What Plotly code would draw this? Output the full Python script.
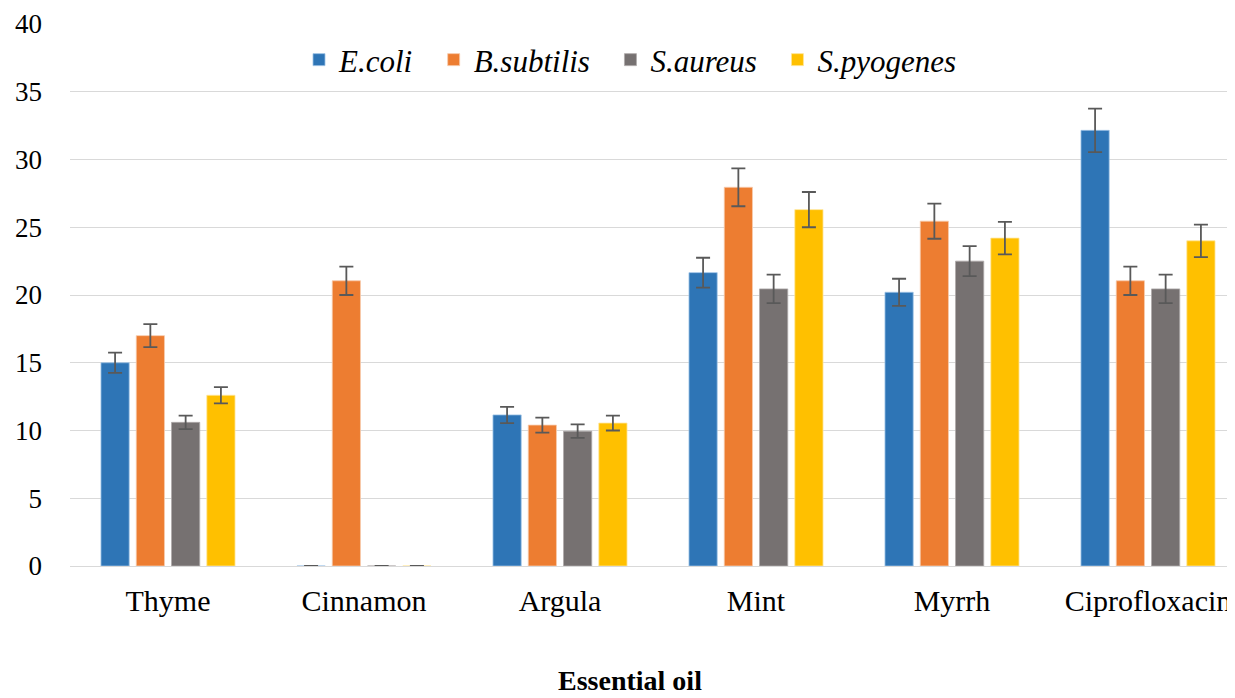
import plotly.graph_objects as go

categories = ["Thyme", "Cinnamon", "Argula", "Mint", "Myrrh", "Ciprofloxacin"]
series_names = ["E.coli", "B.subtilis", "S.aureus", "S.pyogenes"]

ecoli = [15.0, 0, 11.15, 21.65, 20.2, 32.15]
bsubtilis = [17.0, 21.05, 10.4, 27.95, 25.45, 21.05]
saureus = [10.6, 0, 9.95, 20.45, 22.5, 20.45]
spyogenes = [12.6, 0, 10.55, 26.3, 24.2, 24.0]

ecoli_err = [0.75, 0, 0.6, 1.1, 1.0, 1.6]
bsubtilis_err = [0.85, 1.05, 0.55, 1.4, 1.3, 1.05]
saureus_err = [0.5, 0, 0.5, 1.05, 1.1, 1.05]
spyogenes_err = [0.6, 0, 0.55, 1.3, 1.2, 1.2]

y_ticks = [0, 5, 10, 15, 20, 25, 30, 35, 40]

colors = ["#2E75B6", "#ED7D31", "#767171", "#FFC000"]
edge = ["#9DC3E6", "#F8CBAD", "#AEAAAA", "#FFE699"]

values = [ecoli, bsubtilis, saureus, spyogenes]
errors = [ecoli_err, bsubtilis_err, saureus_err, spyogenes_err]

SERIF = "Liberation Serif"

fig = go.Figure()
for name, v, e, c, ec in zip(series_names, values, errors, colors, edge):
    fig.add_trace(go.Bar(
        x=categories, y=v, name="<i>" + name + "</i>\u00a0\u00a0",
        marker=dict(color=c, line=dict(color=ec, width=0.8)),
        error_y=dict(type="data", array=e, visible=True, color="#595959",
                     thickness=1.8, width=7),
    ))

# page body has an 8px margin, so the figure is offset by 8px
OFF = 8
W, H = 1235 - OFF, 698 - OFF
left, top = 70 - OFF, 24 - OFF
plot_bottom = 566 - OFF
bottom = H - plot_bottom
plot_w = W - left
plot_h = plot_bottom - top
span = plot_w / 196.0

fig.update_layout(
    width=W, height=H,
    margin=dict(l=left, r=0, t=top, b=bottom, autoexpand=False),
    paper_bgcolor="white", plot_bgcolor="white",
    barmode="group", bargap=0.28, bargroupgap=0.2,
    font=dict(family=SERIF, size=27, color="black"),
    legend=dict(
        orientation="h", xref="container", yref="container",
        x=(638 - OFF) / W, xanchor="center", y=1 - (60 - OFF) / H, yanchor="middle",
        font=dict(family=SERIF, size=31, color="black"),
        bgcolor="rgba(0,0,0,0)", itemwidth=30,
    ),
    xaxis=dict(
        range=[-0.5, -0.5 + span], showgrid=False, showline=False, ticks="",
        ticklabelstandoff=14,
        tickfont=dict(family=SERIF, size=30), automargin=False,
    ),
    yaxis=dict(
        range=[0, 40], tickvals=y_ticks, showgrid=True, gridcolor="#D9D9D9",
        gridwidth=1.3, zeroline=True, zerolinecolor="#D9D9D9", zerolinewidth=1.3,
        showline=False, ticks="", ticklabelstandoff=27,
        tickfont=dict(family=SERIF, size=27), automargin=False,
    ),
    annotations=[dict(
        text="<b>Essential oil</b>", xref="paper", yref="paper",
        x=(630 - 70) / plot_w, y=-(H - plot_bottom) / plot_h, xanchor="center", yanchor="bottom",
        showarrow=False, font=dict(family=SERIF, size=28, color="black"),
    )],
)

fig.write_html("out.html")
